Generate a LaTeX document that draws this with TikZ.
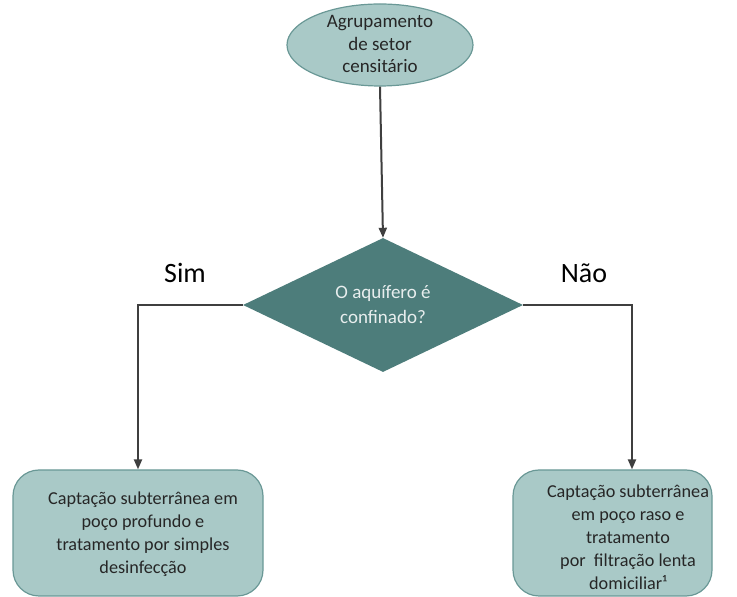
\documentclass[tikz,border=0pt]{standalone}
\usepackage{fontspec}
\setmainfont{Carlito}
\usetikzlibrary{positioning,arrows.meta,shapes.geometric}
\definecolor{paleteal}{HTML}{A9C9C7}
\definecolor{edgeteal}{HTML}{6A9896}
\definecolor{darkteal}{HTML}{4D7D7B}
\definecolor{lighttext}{HTML}{E8EEEE}
\definecolor{inkgray}{HTML}{262626}
\definecolor{wiregray}{HTML}{3F3F3F}

\begin{document}
\begin{tikzpicture}[x=1pt,y=1pt,font=\fontsize{18.2}{23}\selectfont,text=inkgray,
  start/.style={ellipse,draw=edgeteal,fill=paleteal,line width=1.2pt,minimum width=186pt,minimum height=82pt,inner sep=0pt,font=\fontsize{19}{22.5}\selectfont},
  query/.style={diamond,fill=darkteal,minimum width=280pt,minimum height=134pt,inner sep=0pt,text=lighttext,align=center,font=\fontsize{19}{25}\selectfont},
  result/.style={draw=edgeteal,fill=paleteal,line width=1.2pt,rounded corners=26pt,inner sep=0pt},
  wire/.style={draw=wiregray,line width=2pt,-{Triangle[length=10pt,width=8pt]}},
  answer/.style={font=\fontsize{28}{32}\selectfont,text=black}]
\useasboundingbox (0,0) rectangle (737,597);
\node[start] (group) at (380,552) {\raisebox{-5pt}[0pt][0pt]{\begin{tabular}{@{}c@{}}Agrupamento\\de setor\\censitário\end{tabular}}};
\node[query] (aquifer) at (383,292) {O aquífero é\\confinado?};
\node[result,minimum width=250pt,minimum height=126pt] (deep) at (138,64) {};
\node[align=center] (deeptext) at (143,63) {Captação subterrânea em\\poço profundo e\\tratamento por simples\\desinfecção};
\node[result,minimum width=199pt,minimum height=126pt] (shallow) at (612.5,64) {};
\node[align=center] (shallowtext) at (628,60) {Captação subterrânea\\em poço raso e\\tratamento\\por\ \ filtração lenta\\domiciliar¹};
\node[answer] (yes) at (185,324) {Sim};
\node[answer] (no) at (584,324) {Não};
\coordinate (yesbend) at (deep.north |- aquifer.west);
\coordinate (nobend) at (632,0 |- aquifer.east);
\draw[wire] (group.south) -- (aquifer.north);
\draw[wire] (aquifer.west) -- (yesbend) -- (deep.north);
\draw[wire] (aquifer.east) -- (nobend) -- (nobend |- shallow.north);
\end{tikzpicture}
\end{document}
